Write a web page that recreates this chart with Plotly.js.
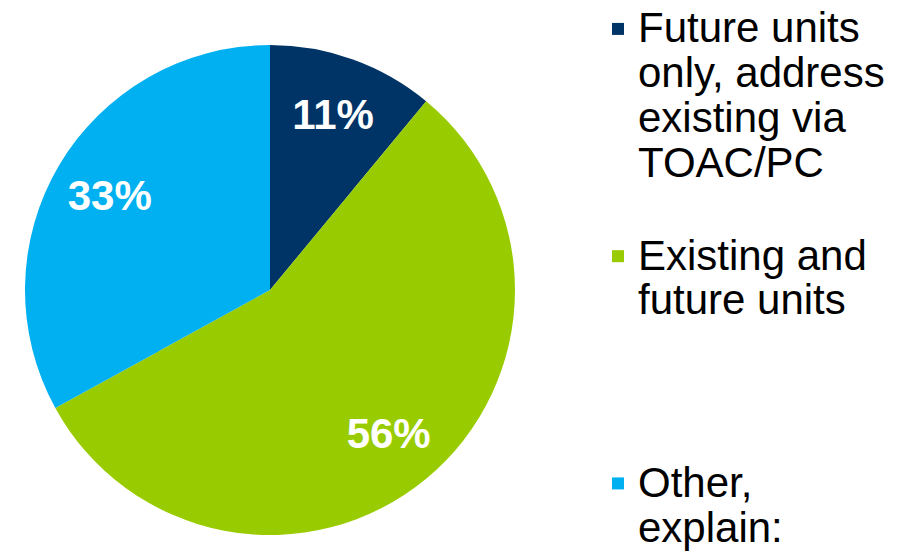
<!DOCTYPE html>
<html>
<head>
<meta charset="utf-8">
<script src="https://cdn.plot.ly/plotly-3.0.1.min.js"></script>
<style>html,body{margin:0;padding:0;background:#fff;}#chart{width:917px;height:556px;}</style>
</head>
<body>
<div id="chart"></div>
<script>
const categories = [
  "Future units\nonly, address\nexisting via\nTOAC/PC",
  "Existing and\nfuture units",
  "Other,\nexplain:"
];
const shares = [11, 56, 33];
const sliceColors = ["#003366", "#99cc00", "#00b0f0"];

// legend labels: larger glyphs inside a tighter line pitch, plus blank lines for spacing
const blankLinesAfter = [1, 3, 0];
const legendLabels = categories.map((c, i) => {
  const lines = c.split("\n").map(l => '<span style="font-size:42px">' + l + '</span>');
  for (let k = 0; k < blankLinesAfter[i]; k++) lines.push("&nbsp;");
  return lines.join("<br>");
});

const cx = 270, cy = 290, R = 245, W = 917, H = 556;
const innerFrac = 0.53, holeFrac = 0.52;

const innerFill = {
  type: "pie",
  labels: legendLabels,
  values: shares,
  sort: false,
  direction: "clockwise",
  rotation: 0,
  marker: { colors: sliceColors, line: { width: 0 } },
  textinfo: "none",
  showlegend: false,
  hoverinfo: "none",
  domain: {
    x: [(cx - R * innerFrac) / W, (cx + R * innerFrac) / W],
    y: [1 - (cy + R * innerFrac) / H, 1 - (cy - R * innerFrac) / H]
  }
};

const ring = {
  type: "pie",
  labels: legendLabels,
  values: shares,
  sort: false,
  direction: "clockwise",
  rotation: 0,
  hole: holeFrac,
  marker: { colors: sliceColors, line: { width: 0 } },
  textinfo: "percent",
  texttemplate: "%{percent:.0%}",
  textposition: "inside",
  insidetextorientation: "horizontal",
  textfont: { family: "Liberation Sans, Arial, sans-serif", size: 42, color: "#ffffff", weight: "bold" },
  domain: { x: [(cx - R) / W, (cx + R) / W], y: [1 - (cy + R) / H, 1 - (cy - R) / H] },
  hoverinfo: "none"
};

const layout = {
  width: W,
  height: H,
  margin: { l: 0, r: 0, t: 0, b: 0 },
  paper_bgcolor: "#ffffff",
  showlegend: true,
  legend: {
    x: 598 / W, xanchor: "left",
    y: 1, yanchor: "top",
    valign: "top",
    font: { family: "Liberation Sans, Arial, sans-serif", size: 34.5, color: "#000000" },
    bgcolor: "rgba(0,0,0,0)",
    itemwidth: 30
  }
};

Plotly.newPlot("chart", [innerFill, ring], layout, { displayModeBar: false, staticPlot: true });
</script>
</body>
</html>
